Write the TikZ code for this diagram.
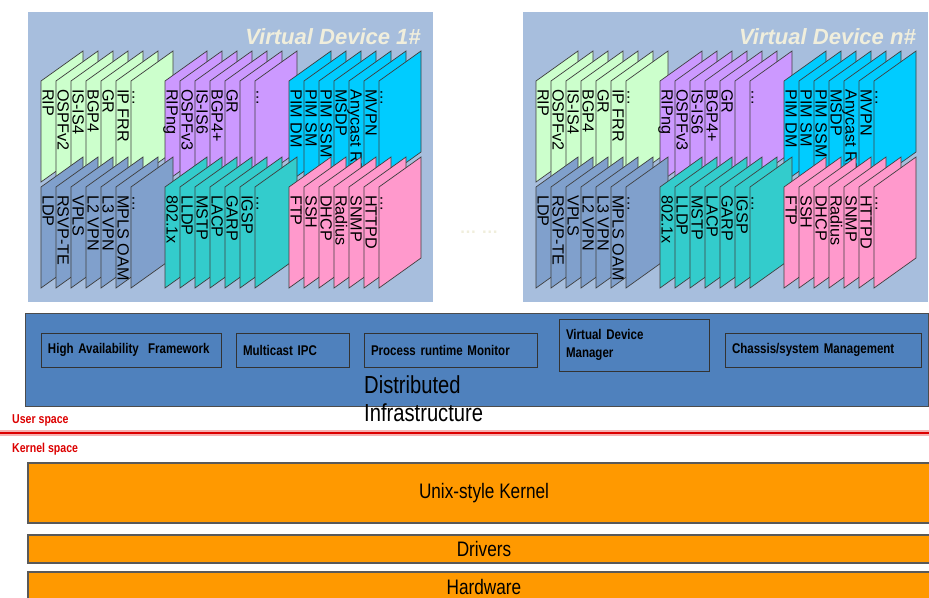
\documentclass[tikz,border=0pt]{standalone}
\usepackage{fontspec}
\setmainfont{Liberation Sans}
\newfontfamily\narrowfont[FakeStretch=0.82]{Liberation Sans}
\usetikzlibrary{positioning}
\definecolor{PanelBlue}{RGB}{167, 190, 221}
\definecolor{SheetGreen}{RGB}{204, 255, 204}
\definecolor{SheetPurple}{RGB}{204, 153, 255}
\definecolor{SheetCyan}{RGB}{0, 204, 255}
\definecolor{SheetSlate}{RGB}{128, 160, 204}
\definecolor{SheetTeal}{RGB}{51, 204, 204}
\definecolor{SheetPink}{RGB}{255, 153, 204}
\definecolor{InfraBlue}{RGB}{79, 129, 189}
\definecolor{KernelOrange}{RGB}{255, 153, 0}
\definecolor{TitleCream}{RGB}{240, 238, 220}
\definecolor{SpaceRed}{RGB}{220, 0, 0}

\begin{document}
\begin{tikzpicture}[x=0.03cm, y=-0.03cm,
        sheetlabel/.style={rotate=-90, anchor=base west, inner sep=0pt,
                           font=\fontsize{13.8}{14}\selectfont},
        infobox/.style={draw=black!80, fill=InfraBlue, line width=0.8pt,
                        inner xsep=0.21cm, inner ysep=0pt, align=left,
                        font=\narrowfont\bfseries\fontsize{12}{15}\selectfont},
        layerbar/.style={draw=black!65, fill=KernelOrange, line width=1.6pt,
                         minimum width=27.36cm,
                         font=\narrowfont\fontsize{17.9}{20}\selectfont}]
    \useasboundingbox (0,0) rectangle (929,598);
    \clip (0,0) rectangle (929,598);

    % Two virtual devices, each a panel of stacked protocol sheets
    \foreach \px/\vdname [count=\v] in {0/{Virtual Device 1\#}, 495/{Virtual Device n\#}} {
        \fill[PanelBlue] (\px+28,12) rectangle (\px+433,302);
        \node[font=\bfseries\itshape\fontsize{18.8}{20}\selectfont, text=TitleCream,
              anchor=east, inner sep=0pt] (title\v) at (\px+421,37) {\vdname};
        % upper row first, lower row in front of it
        \foreach \gx/\gy/\col/\labs [count=\g] in {
                41/81/SheetGreen/{RIP,OSPFv2,IS-IS4,BGP4,GR,IP FRR,\dots},
                165/81/SheetPurple/{RIPng,OSPFv3,IS-IS6,BGP4+,GR,{},\dots},
                289/81/SheetCyan/{PIM DM,PIM SM,PIM SSM,MSDP,Anycast RP,MVPN,\dots},
                41/187/SheetSlate/{LDP,RSVP-TE,VPLS,L2 VPN,L3 VPN,MPLS OAM,\dots},
                165/187/SheetTeal/{802.1x,LLDP,MSTP,LACP,GARP,IGSP,\dots},
                289/187/SheetPink/{FTP,SSH,DHCP,Radius,SNMP,HTTPD,\dots}} {
            \foreach \lab [count=\i from 0] in \labs {
                \pgfmathsetmacro{\sx}{\px+\gx+15*\i}
                \filldraw[fill=\col, draw=black!75, line width=0.6pt]
                    (\sx,\gy) -- (\sx+42,\gy-30) -- (\sx+42,\gy+71) -- (\sx,\gy+101) -- cycle;
                \node[sheetlabel] (v\v g\g s\i) at (\sx+1.5,\gy+8) {\lab};
            }
        }
    }
    \node[text=TitleCream, font=\bfseries\fontsize{14.5}{15}\selectfont] (gap) at (479,232) {\dots\ \dots};

    % Distributed infrastructure
    \draw[draw=black!70, fill=InfraBlue, line width=0.8pt] (25,313) rectangle (928,406);
    \node[infobox, minimum width=5.4cm, text width=4.98cm, minimum height=1.02cm]
        (ha) at (131,350) {High Availability\ \ Framework};
    \node[infobox, minimum width=3.39cm, text width=2.97cm, minimum height=1.02cm]
        (ipc) at (292.5,350) {Multicast IPC};
    \node[infobox, minimum width=5.19cm, text width=4.77cm, minimum height=1.02cm]
        (monitor) at (450.5,350) {Process runtime Monitor};
    \node[infobox, minimum width=4.5cm, text width=4.08cm, minimum height=1.56cm]
        (vdm) at (634,345) {Virtual Device\\Manager};
    \node[infobox, minimum width=5.88cm, text width=5.46cm, minimum height=1.02cm]
        (chassis) at (823,350) {Chassis/system Management};
    \node[anchor=north west, inner sep=0pt, align=left,
          font=\narrowfont\fontsize{21}{23.9}\selectfont] (infra) at (364,375)
        {Distributed\\Infrastructure};

    % User / kernel boundary
    \node[anchor=base west, inner sep=0pt, text=SpaceRed,
          font=\narrowfont\bfseries\fontsize{11}{12}\selectfont] (user) at (12,423) {User space};
    \draw[SpaceRed!30, line width=4.5pt] (0,433) -- (929,433);
    \draw[SpaceRed, line width=2.4pt] (0,433) -- (929,433);
    \node[anchor=base west, inner sep=0pt, text=SpaceRed,
          font=\narrowfont\bfseries\fontsize{11}{12}\selectfont] (kernelsp) at (12,452) {Kernel space};

    % Kernel layers
    \node[layerbar, minimum height=1.8cm] (kernel) at (484,493) {Unix-style Kernel};
    \node[layerbar, minimum height=0.84cm] (drivers) at (484,549) {Drivers};
    \node[layerbar, minimum height=0.9cm] (hardware) at (484,587) {Hardware};
\end{tikzpicture}
\end{document}
